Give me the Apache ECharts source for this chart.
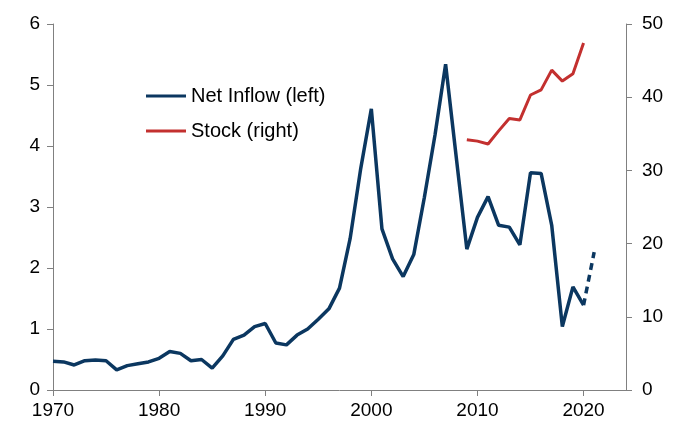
<!DOCTYPE html>
<html>
<head>
<meta charset="utf-8">
<script src="https://cdn.jsdelivr.net/npm/echarts@6/dist/echarts.min.js"></script>
<style>
  html, body { margin: 0; padding: 0; background: #fff; }
  #main { width: 685px; height: 423px; }
</style>
</head>
<body>
<div id="main"></div>
<script>
// net inflow, left axis (1970-2020 solid, 2020-2021 dashed)
const inflowYears = [1970, 1971, 1972, 1973, 1974, 1975, 1976, 1977, 1978, 1979,
  1980, 1981, 1982, 1983, 1984, 1985, 1986, 1987, 1988, 1989,
  1990, 1991, 1992, 1993, 1994, 1995, 1996, 1997, 1998, 1999,
  2000, 2001, 2002, 2003, 2004, 2005, 2006, 2007, 2008, 2009,
  2010, 2011, 2012, 2013, 2014, 2015, 2016, 2017, 2018, 2019, 2020];
const inflowValues = [0.47, 0.46, 0.41, 0.48, 0.49, 0.48, 0.33, 0.40, 0.43, 0.46,
  0.52, 0.63, 0.60, 0.48, 0.50, 0.36, 0.56, 0.83, 0.90, 1.04,
  1.09, 0.77, 0.74, 0.90, 1.00, 1.16, 1.33, 1.67, 2.48, 3.63,
  4.61, 2.64, 2.15, 1.86, 2.22, 3.16, 4.18, 5.34, 3.82, 2.31,
  2.83, 3.17, 2.70, 2.67, 2.38, 3.56, 3.55, 2.70, 1.04, 1.69, 1.39];
const projYears = [2020, 2021];
const projValues = [1.39, 2.26];

// stock, right axis
const stockYears = [2009, 2010, 2011, 2012, 2013, 2014, 2015, 2016, 2017, 2018, 2019, 2020];
const stockValues = [34.2, 34.0, 33.6, 35.4, 37.1, 36.9, 40.3, 41.0, 43.7, 42.2, 43.2, 47.4];

const navy = '#0b3760';
const red = '#c3302f';
const axisGrey = '#808080';
const fontFam = '"Liberation Sans", Arial, sans-serif';

const pairs = (xs, ys) => xs.map((x, i) => [x, ys[i]]);

const chart = echarts.init(document.getElementById('main'), null, { renderer: 'canvas' });

chart.setOption({
  animation: false,
  backgroundColor: '#fff',
  textStyle: { fontFamily: fontFam },
  grid: { left: 53, right: 59, top: 24, bottom: 33 },
  legend: {
    orient: 'vertical',
    left: 141,
    top: 81,
    itemGap: 15,
    itemWidth: 40,
    itemHeight: 3,
    icon: 'rect',
    textStyle: { fontSize: 20, color: '#000', fontFamily: fontFam },
    data: ['Net Inflow (left)', 'Stock (right)']
  },
  xAxis: {
    type: 'value',
    min: 1970,
    max: 2024,
    interval: 10,
    splitLine: { show: false },
    axisLine: { lineStyle: { color: axisGrey, width: 1 } },
    axisTick: { length: 6, lineStyle: { color: axisGrey } },
    axisLabel: {
      fontSize: 19, color: '#000', margin: 11, showMaxLabel: false,
      formatter: v => (v % 10 === 0 ? String(v) : '')
    }
  },
  yAxis: [
    {
      type: 'value', min: 0, max: 6, interval: 1, position: 'left',
      splitLine: { show: false },
      axisLine: { show: true, lineStyle: { color: axisGrey, width: 1 } },
      axisTick: { show: true, length: 6, lineStyle: { color: axisGrey } },
      axisLabel: { fontSize: 19, color: '#000', margin: 13 }
    },
    {
      type: 'value', min: 0, max: 50, interval: 10, position: 'right',
      splitLine: { show: false },
      axisLine: { show: true, lineStyle: { color: axisGrey, width: 1 } },
      axisTick: { show: true, length: 6, lineStyle: { color: axisGrey } },
      axisLabel: { fontSize: 19, color: '#000', margin: 16 }
    }
  ],
  series: [
    {
      name: 'Net Inflow (left)',
      type: 'line',
      yAxisIndex: 0,
      data: pairs(inflowYears, inflowValues),
      showSymbol: false,
      color: navy,
      lineStyle: { color: navy, width: 3.5 }
    },
    {
      name: 'Net Inflow projection',
      type: 'line',
      yAxisIndex: 0,
      data: pairs(projYears, projValues),
      showSymbol: false,
      color: navy,
      lineStyle: { color: navy, width: 3.5, type: [7, 5] }
    },
    {
      name: 'Stock (right)',
      type: 'line',
      yAxisIndex: 1,
      data: pairs(stockYears, stockValues),
      showSymbol: false,
      color: red,
      lineStyle: { color: red, width: 3 }
    }
  ]
});
</script>
</body>
</html>
